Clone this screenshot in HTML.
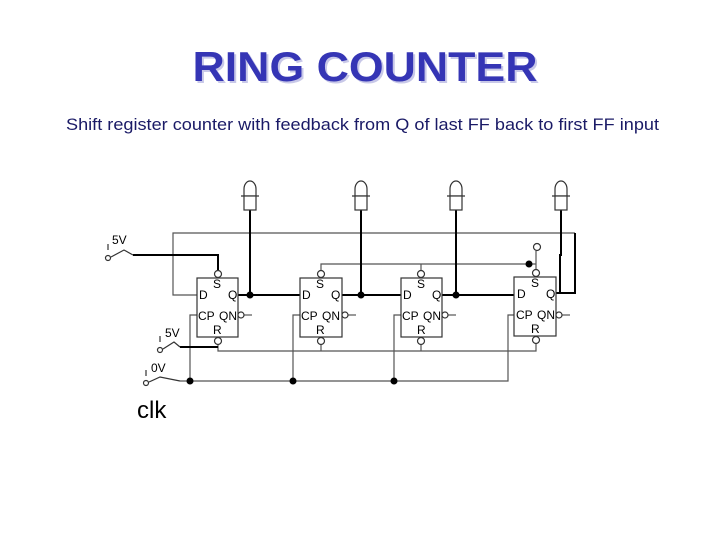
<!DOCTYPE html>
<html><head><meta charset="utf-8"><style>html,body{margin:0;padding:0;background:#fff;}svg{display:block}</style></head>
<body>
<svg width="720" height="540" viewBox="0 0 720 540" xmlns="http://www.w3.org/2000/svg" font-family="Liberation Sans, sans-serif">
<text x="367" y="83" text-anchor="middle" font-size="42" font-weight="bold" fill="#c8c8e8" textLength="345" lengthAdjust="spacingAndGlyphs">RING COUNTER</text>
<text x="365" y="81" text-anchor="middle" font-size="42" font-weight="bold" fill="#3535b5" textLength="345" lengthAdjust="spacingAndGlyphs">RING COUNTER</text>
<text x="66" y="130" font-size="17" fill="#1a1a66" textLength="593" lengthAdjust="spacingAndGlyphs">Shift register counter with feedback from Q of last FF back to first FF input</text>

<g fill="none" stroke="#555" stroke-width="1.2">
<!-- top feedback -->
<polyline points="197,295 173,295 173,233 575,233"/>
<!-- S line FF2-FF4 -->
<polyline points="321,270 321,264 536,264"/>
<line x1="421" y1="264" x2="421" y2="270"/>
<polyline points="536,251 536,270"/>
<!-- R line -->
<polyline points="218,344 218,351 536,351 536,344"/>
<line x1="321" y1="344" x2="321" y2="351"/>
<line x1="421" y1="344" x2="421" y2="351"/>
<!-- clk line -->
<polyline points="180,381 508,381 508,315 514,315"/>
<polyline points="190,381 190,315 197,315"/>
<polyline points="293,381 293,315 300,315"/>
<polyline points="394,381 394,315 401,315"/>
<!-- QN stubs -->
<line x1="244" y1="315" x2="252" y2="315"/><line x1="348" y1="315" x2="356" y2="315"/>
<line x1="448" y1="315" x2="456" y2="315"/><line x1="562" y1="315" x2="570" y2="315"/>
</g>
<g fill="none" stroke="#000" stroke-width="2">
<polyline points="133,255 218,255 218,270"/>
<polyline points="180,347 218,347"/>
<line x1="238" y1="295" x2="300" y2="295"/>
<line x1="342" y1="295" x2="401" y2="295"/>
<line x1="442" y1="295" x2="514" y2="295"/>
<polyline points="556,293 575,293 575,233"/>
<line x1="250" y1="210" x2="250" y2="295"/>
<line x1="361" y1="210" x2="361" y2="295"/>
<line x1="456" y1="210" x2="456" y2="295"/>
<polyline points="561,210 561,255 560,255 560,293"/>
</g>
<!-- flip flops -->
<g fill="#fff" stroke="#333" stroke-width="1.2">
<rect x="197" y="278" width="41" height="59"/>
<rect x="300" y="278" width="42" height="59"/>
<rect x="401" y="278" width="41" height="59"/>
<rect x="514" y="277" width="42" height="59"/>
<circle cx="218" cy="274" r="3.5"/><circle cx="321" cy="274" r="3.5"/><circle cx="421" cy="274" r="3.5"/><circle cx="536" cy="273" r="3.5"/>
<circle cx="218" cy="341" r="3.5"/><circle cx="321" cy="341" r="3.5"/><circle cx="421" cy="341" r="3.5"/><circle cx="536" cy="340" r="3.5"/>
<circle cx="241" cy="315" r="3"/><circle cx="345" cy="315" r="3"/><circle cx="445" cy="315" r="3"/><circle cx="559" cy="315" r="3"/>
<circle cx="537" cy="247" r="3.5"/>
</g>
<g font-size="12" fill="#000">
<g id="lbl">
<text x="199" y="299">D</text><text x="228" y="299">Q</text><text x="213" y="288">S</text><text x="198" y="320">CP</text><text x="219" y="320">QN</text><text x="213" y="334">R</text>
</g>
<use href="#lbl" x="103"/><use href="#lbl" x="204"/><use href="#lbl" x="318" y="-1"/>
</g>
<!-- dots -->
<g fill="#000">
<circle cx="250" cy="295" r="3.5"/><circle cx="361" cy="295" r="3.5"/><circle cx="456" cy="295" r="3.5"/>
<circle cx="529" cy="264" r="3.5"/>
<circle cx="190" cy="381" r="3.5"/><circle cx="293" cy="381" r="3.5"/><circle cx="394" cy="381" r="3.5"/>
</g>
<!-- bulbs -->
<g fill="#fff" stroke="#333" stroke-width="1.2">
<g id="b"><path d="M244,196 L244,189 A6,8 0 0 1 256,189 L256,196"/><line x1="241" y1="196" x2="259" y2="196"/><rect x="244" y="196" width="12" height="14"/></g>
<use href="#b" x="111"/><use href="#b" x="206"/><use href="#b" x="311"/>
</g>
<!-- switches -->
<g fill="none" stroke="#333" stroke-width="1.2">
<circle cx="108" cy="258" r="2.5"/><line x1="108" y1="244" x2="108" y2="250"/><polyline points="111,257 124,250 133,255"/>
<circle cx="160" cy="350" r="2.5"/><line x1="160" y1="336" x2="160" y2="342"/><polyline points="163,349 174,342 180,347"/>
<circle cx="146" cy="383" r="2.5"/><line x1="146" y1="370" x2="146" y2="376"/><polyline points="149,382 160,377 180,381"/>
</g>
<g font-size="12" fill="#000"><text x="112" y="244">5V</text><text x="165" y="337">5V</text><text x="151" y="372">0V</text></g>
<text x="137" y="418" font-size="24" fill="#000">clk</text>
</svg>
</body></html>
